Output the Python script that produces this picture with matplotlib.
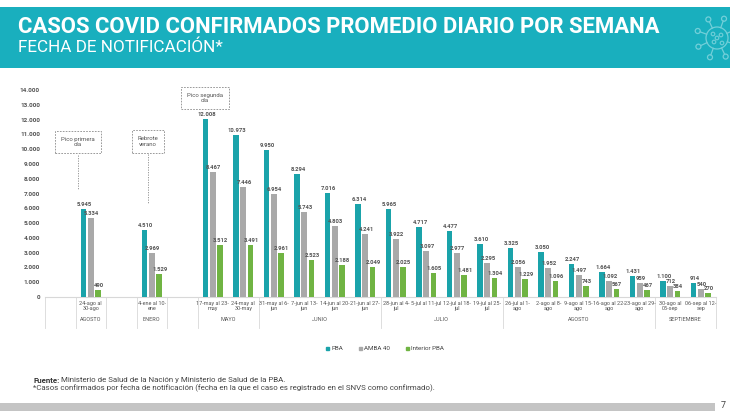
import numpy as np
import matplotlib
matplotlib.use("Agg")
import matplotlib.pyplot as plt
from matplotlib import font_manager as fm
from matplotlib.patches import Rectangle, Circle, Patch
from matplotlib.transforms import blended_transform_factory

# ---------------- data ----------------
week_labels = ['', '24-ago al\n30-ago', '', '4-ene al 10-\nene', '',
               '17-may al 23-\nmay', '24-may al\n30-may',
               '31-may al 6-\njun', '7-jun al 13-\njun', '14-jun al 20-\njun', '21-jun al 27-\njun',
               '28-jun al 4-\njul', '5-jul al 11-jul', '12-jul al 18-\njul', '19-jul al 25-\njul',
               '26-jul al 1-\nago', '2-ago al 8-\nago', '9-ago al 15-\nago', '16-ago al 22-\nago',
               '23-ago al 29-\nago', '30-ago al\n05-sep', '06-sep al 12-\nsep']
month_names = ['', 'AGOSTO', '', 'ENERO', '', 'MAYO', 'JUNIO', 'JULIO', 'AGOSTO', 'SEPTIEMBRE']
month_sizes = [1, 1, 1, 1, 1, 2, 4, 4, 5, 2]

pba = [None, 5945, None, 4510, None, 12008, 10973, 9950, 8294, 7016, 6314,
       5965, 4717, 4477, 3610, 3325, 3050, 2247, 1664, 1431, 1100, 914]
amba = [None, 5334, None, 2969, None, 8467, 7446, 6954, 5743, 4803, 4241,
        3922, 3097, 2977, 2295, 2056, 1952, 1497, 1092, 959, 712, 540]
interior = [None, 490, None, 1529, None, 3512, 3491, 2961, 2523, 2188, 2049,
            2025, 1605, 1481, 1304, 1229, 1096, 743, 567, 467, 384, 270]
series_names = ['PBA', 'AMBA 40', 'Interior PBA']
yticks = list(range(0, 14001, 1000))

title = 'CASOS COVID CONFIRMADOS PROMEDIO DIARIO POR SEMANA'
subtitle = 'FECHA DE NOTIFICACIÓN*'
fuente_b = 'Fuente:'
fuente_t = ' Ministerio de Salud de la Nación y Ministerio de Salud de la PBA.'
nota = '*Casos confirmados por fecha de notificación (fecha en la que el caso es registrado en el SNVS como confirmado).'

# ---------------- style ----------------
avail = {f.name for f in fm.fontManager.ttflist}
body_font = 'Roboto' if 'Roboto' in avail else 'DejaVu Sans'
head_font = body_font
plt.rcParams['font.family'] = [body_font, 'DejaVu Sans']

TEAL_HEAD = '#19AFBE'
C_PBA = '#1AA3AA'
C_AMBA = '#A9A9A9'
C_INT = '#70B443'
TXT = '#555555'
LINE = '#D8D8D8'

W, H = 730, 411
fig = plt.figure(figsize=(W / 100, H / 100), dpi=100)
fx = lambda x: x / W
fy = lambda y: 1 - y / H

# background decoration layer (pixel coords)
bg = fig.add_axes([0, 0, 1, 1], zorder=0)
bg.set_xlim(0, W)
bg.set_ylim(H, 0)
bg.axis('off')
bg.add_patch(Rectangle((0, 7), W, 61, color=TEAL_HEAD, lw=0))
bg.add_patch(Rectangle((0, 403), 715, 8, color='#C4C4C4', lw=0))
# virus icon
ic = '#72CFD9'
cx, cy = 717, 38
bg.add_patch(Circle((cx, cy), 11, fc='none', ec=ic, lw=0.9))
for a in np.deg2rad([20, 65, 110, 155, 200, 245, 290, 335]):
    x1, y1 = cx + 11 * np.cos(a), cy + 11 * np.sin(a)
    x2, y2 = cx + 18 * np.cos(a), cy + 18 * np.sin(a)
    bg.plot([x1, x2], [y1, y2], color=ic, lw=0.9)
    bg.add_patch(Circle((cx + 20.5 * np.cos(a), cy + 20.5 * np.sin(a)), 2.5, fc='none', ec=ic, lw=0.9))
for (dx, dy) in [(-4, -4), (4, -3), (-3, 4), (5, 5), (0, 0)]:
    bg.add_patch(Circle((cx + dx, cy + dy), 1.8, fc='none', ec=ic, lw=0.8))

# header texts
t_title = fig.text(fx(18), fy(27), title, color='white', fontsize=16, fontweight='bold',
                   family=[head_font, 'DejaVu Sans'], va='center', ha='left')
t_sub = fig.text(fx(18), fy(47), subtitle, color='white', fontsize=11, fontweight='normal',
                 family=[body_font, 'DejaVu Sans'], va='center', ha='left')

# ---------------- chart ----------------
ax = fig.add_axes([fx(45), fy(297), (716 - 45) / W, (297 - 90) / H], zorder=2)
ax.patch.set_alpha(0)
n = len(week_labels)
x = np.arange(n)
ax.set_xlim(-0.5, n - 0.5)
ax.set_ylim(0, 14000)

bw, off = 0.185, 0.232
for vals, dx, col, name in [(pba, -off, C_PBA, series_names[0]),
                            (amba, 0, C_AMBA, series_names[1]),
                            (interior, off, C_INT, series_names[2])]:
    xs = [xi + dx for xi, v in zip(x, vals) if v is not None]
    vs = [v for v in vals if v is not None]
    ax.bar(xs, vs, width=bw, color=col, label=name, zorder=3)
    for xi, v in zip(xs, vs):
        ax.annotate(f'{v:,}'.replace(',', '.'), (xi, v), xytext=(0.6, 1.5),
                    textcoords='offset points', ha='center', va='bottom',
                    fontsize=4.2, fontweight='bold', color=TXT)

ax.set_yticks(yticks)
ax.set_yticklabels([f'{v:,}'.replace(',', '.') for v in yticks], fontsize=4.6,
                   fontweight='bold', color=TXT)
ax.tick_params(axis='y', length=0, pad=3.6)
ax.set_xticks([])
for s in ['left', 'right', 'top']:
    ax.spines[s].set_visible(False)
ax.spines['bottom'].set_color(LINE)
ax.spines['bottom'].set_linewidth(0.8)

tr = blended_transform_factory(ax.transData, ax.transAxes)
px2ax = lambda p: -p / 207.0
for xi, lab in zip(x, week_labels):
    if lab:
        ax.text(xi, px2ax(3.5), lab, transform=tr, ha='center', va='top',
                fontsize=4.0, color=TXT, linespacing=1.1, clip_on=False)
bounds = np.concatenate([[-0.5], np.cumsum(month_sizes) - 0.5])
for b in bounds:
    ax.plot([b, b], [0, px2ax(31)], transform=tr, color=LINE, lw=0.6, clip_on=False)
for i, m in enumerate(month_names):
    if m:
        ax.text((bounds[i] + bounds[i + 1]) / 2, px2ax(22.5), m, transform=tr,
                ha='center', va='center', fontsize=4.0, color=TXT, clip_on=False)

# annotation boxes
def pyv(py):
    return (297 - py) / 207 * 14000

def pxx(px):
    return (px - 45) / 30.5 - 0.5

box = dict(boxstyle='square,pad=0.95', fc='white', ec='#8a8a8a', ls=(0, (2, 1.5)), lw=0.6)
for label, bx, byc, bbot, lend in [('Pico primera\nola', 78, 142, 155, 190),
                                   ('Rebrote\nverano', 148, 141.5, 154, 203),
                                   ('Pico segunda\nola', 205, 98, None, None)]:
    ax.text(pxx(bx), pyv(byc), label, ha='center', va='center', fontsize=4.3,
            color=TXT, bbox=box, linespacing=1.2, zorder=4)
    if lend is not None:
        ax.plot([pxx(bx), pxx(bx)], [pyv(bbot), pyv(lend)], color='#8a8a8a',
                lw=0.6, ls=(0, (1.5, 1.5)), zorder=2)

# legend
handles = [Patch(color=C_PBA), Patch(color=C_AMBA), Patch(color=C_INT)]
fig.legend(handles, series_names, loc='center', bbox_to_anchor=(fx(385), fy(349)),
           ncol=3, frameon=False, fontsize=4.5, handlelength=0.5, handleheight=0.5,
           handletextpad=0.3, columnspacing=2.6, labelcolor='#444444')

# footer
t_fb = fig.text(fx(33), fy(380), fuente_b, fontsize=6, fontweight='bold', color='#333333',
                va='center', ha='left')
t_nota = fig.text(fx(33), fy(388), nota, fontsize=6, color='#444444', va='center', ha='left')
fig.text(fx(723), fy(405), '7', fontsize=6.5, color='#444444', va='center', ha='center')

# fit text widths
fig.canvas.draw()
r = fig.canvas.get_renderer()
def fit(t, width_px):
    w = t.get_window_extent(r).width
    t.set_fontsize(t.get_fontsize() * width_px / w)

fit(t_title, 644)
fit(t_sub, 205)
fit(t_nota, 409)
t_fb.set_fontsize(t_nota.get_fontsize())
fig.canvas.draw()
wb = t_fb.get_window_extent(r).width
t_ft = fig.text(fx(33 + wb), fy(380), fuente_t, fontsize=t_nota.get_fontsize(),
                color='#444444', va='center', ha='left')

fig.savefig('out.png', dpi=100)
